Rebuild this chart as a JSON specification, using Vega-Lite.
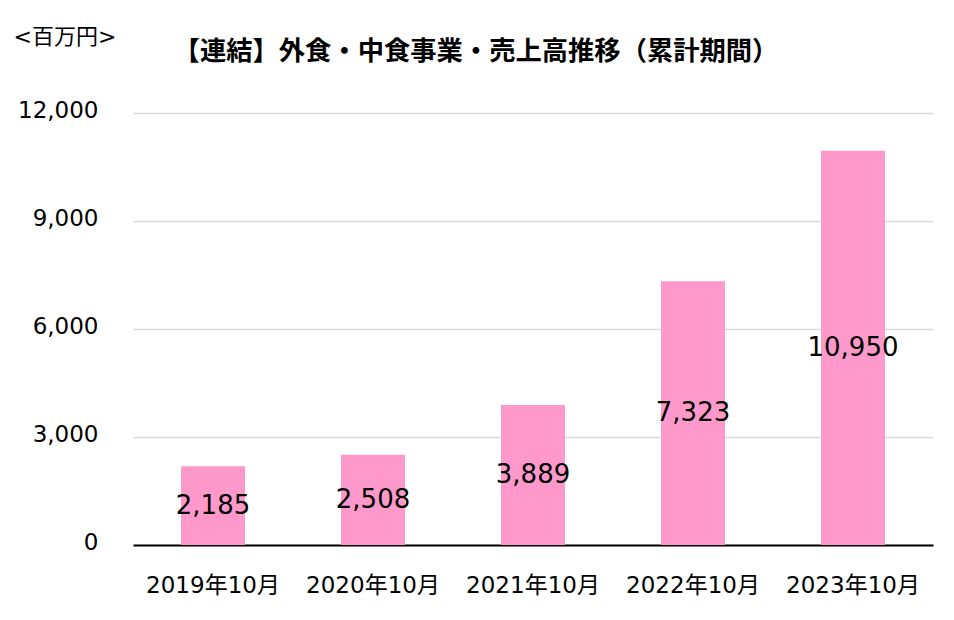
{
  "$schema": "https://vega.github.io/schema/vega-lite/v6.json",
  "width": 800,
  "height": 432,
  "autosize": {"type": "none"},
  "padding": {"left": 133, "top": 113, "right": 21, "bottom": 75},
  "background": "white",
  "title": {
    "text": "【連結】外食・中食事業・売上高推移（累計期間）",
    "font": "Noto Sans CJK JP",
    "fontSize": 26.3,
    "fontWeight": "bold",
    "color": "#000000",
    "anchor": "middle",
    "dx": -57,
    "offset": -40
  },
  "data": {
    "values": [
      {"period": "2019年10月", "sales": 2185},
      {"period": "2020年10月", "sales": 2508},
      {"period": "2021年10月", "sales": 3889},
      {"period": "2022年10月", "sales": 7323},
      {"period": "2023年10月", "sales": 10950}
    ]
  },
  "layer": [
    {
      "mark": {"type": "bar", "color": "#FF99CC"},
      "encoding": {
        "x": {
          "field": "period",
          "type": "nominal",
          "sort": null,
          "scale": {"paddingInner": 0.6, "paddingOuter": 0.3},
          "axis": {
            "title": null,
            "labelAngle": 0,
            "labelFont": "DejaVu Sans, Noto Sans CJK JP",
            "labelFontSize": 23,
            "labelColor": "#000000",
            "labelPadding": 29,
            "ticks": false,
            "domainColor": "#000000",
            "domainWidth": 2
          }
        },
        "y": {
          "field": "sales",
          "type": "quantitative",
          "scale": {"domain": [0, 12000]},
          "axis": {
            "values": [0, 3000, 6000, 9000, 12000],
            "format": ",.0f",
            "grid": true,
            "gridColor": "#d9d9d9",
            "gridWidth": 1.5,
            "domain": false,
            "ticks": false,
            "labelFont": "DejaVu Sans",
            "labelFontSize": 23,
            "labelColor": "#000000",
            "labelPadding": 35,
            "labelOffset": -3,
            "title": "<百万円>",
            "titleAngle": 0,
            "titleX": -120,
            "titleY": -77,
            "titleAlign": "left",
            "titleBaseline": "middle",
            "titleFont": "DejaVu Sans, Noto Sans CJK JP",
            "titleFontSize": 22,
            "titleFontWeight": "normal",
            "titleColor": "#000000"
          }
        }
      }
    },
    {
      "mark": {"type": "text", "font": "DejaVu Sans", "fontSize": 26, "baseline": "middle", "color": "#000000"},
      "encoding": {
        "x": {"field": "period", "type": "nominal", "sort": null},
        "y": {"field": "sales", "type": "quantitative", "scale": {"domain": [0, 24000]}, "axis": null},
        "text": {"field": "sales", "type": "quantitative", "format": ","}
      }
    }
  ],
  "resolve": {"scale": {"y": "independent"}},
  "config": {"view": {"stroke": null}}
}
